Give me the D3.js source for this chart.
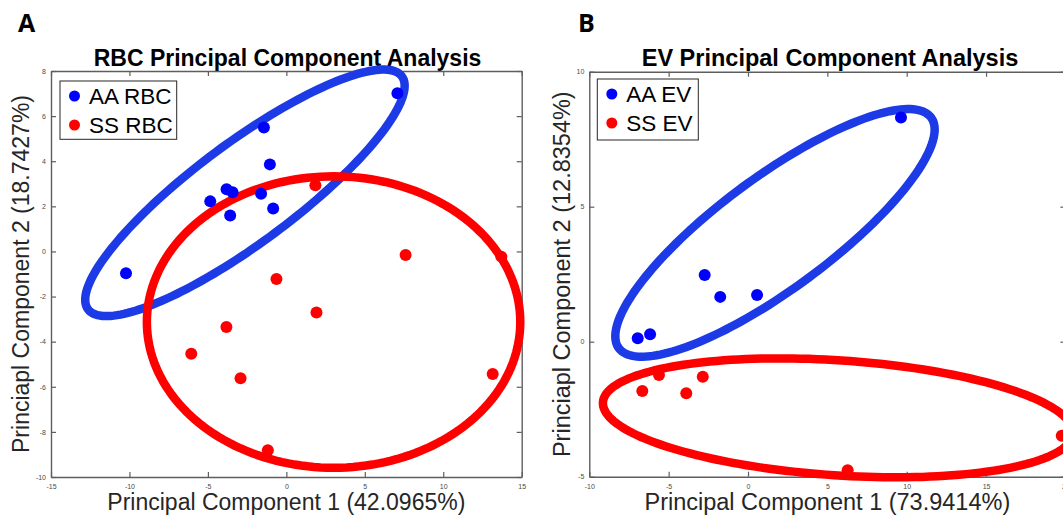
<!DOCTYPE html>
<html>
<head>
<meta charset="utf-8">
<script src="https://cdn.jsdelivr.net/npm/d3@7"></script>
<style>
  body { margin: 0; background: #fff; overflow: hidden; }
  svg { display: block; }
</style>
</head>
<body>
<svg id="fig" width="1063" height="518"></svg>
<script>
// ---- RBC principal component scores (PC1, PC2) ----
const rbcAA = [[7.08, 7.01], [-1.43, 5.49], [-1.05, 3.86], [-3.81, 2.76], [-3.43, 2.62],
               [-4.85, 2.22], [-1.61, 2.56], [-0.84, 1.90], [-3.58, 1.59], [-10.22, -0.97]];
const rbcSS = [[1.85, 2.93], [7.60, -0.16], [13.70, -0.23], [-0.63, -1.22], [1.92, -2.71],
               [-3.82, -3.35], [-6.06, -4.54], [-2.92, -5.62], [13.15, -5.43], [-1.18, -8.81]];

// ---- EV principal component scores (PC1, PC2) ----
const evAA = [[9.64, 8.30], [-2.73, 2.47], [-1.75, 1.66], [0.57, 1.73], [-6.95, 0.13], [-6.17, 0.28]];
const evSS = [[-6.66, -1.83], [-5.61, -1.23], [-3.89, -1.91], [-2.85, -1.30], [6.28, -4.76], [19.77, -3.48]];

// ---- group ellipses: centre, then two conjugate semi-diameters (data units) ----
const rbcAAEllipse = { c: [-2.64, 2.60], u: [10.00, 5.166], v: [1.902, -1.783] };
const rbcSSEllipse = { c: [3.01, -3.13], u: [11.90, 0.0], v: [0.0, 6.46] };
const evAAEllipse  = { c: [1.70, 4.03], u: [9.84, 4.27], v: [2.10, -1.671] };
const evSSEllipse  = { c: [5.67, -2.82], u: [14.81, -0.578], v: [-0.240, -2.125] };

// ---- axes ----
const rbcXDomain = [-15, 15], rbcYDomain = [-10, 8];
const evXDomain = [-10, 20],  evYDomain = [-5, 10];
const rbcXTicks = [-15, -10, -5, 0, 5, 10, 15];
const rbcYTicks = [-10, -8, -6, -4, -2, 0, 2, 4, 6, 8];
const evXTicks = [-10, -5, 0, 5, 10, 15, 20];
const evYTicks = [-5, 0, 5, 10];

// ---- text ----
const panelLetters = ["A", "B"];
const titles = ["RBC Principal Component Analysis", "EV Principal Component Analysis"];
const xLabels = ["Principal Component 1 (42.0965%)", "Principal Component 1 (73.9414%)"];
const yLabels = ["Princiapl Component 2 (18.7427%)", "Princiapl Component 2 (12.8354%)"];
const rbcLegend = ["AA RBC", "SS RBC"];
const evLegend = ["AA EV", "SS EV"];

const BLUE = "#0000ff", RED = "#ff0000", BLUE_RING = "#1c3ae6";

const svg = d3.select("#fig");
svg.append("rect").attr("width", 1063).attr("height", 518).attr("fill", "#fff");

function drawPanel(p) {
  const g = svg.append("g");
  const x = d3.scaleLinear().domain(p.xDomain).range([p.left, p.right]);
  const y = d3.scaleLinear().domain(p.yDomain).range([p.bottom, p.top]);

  // panel letter + title
  g.append("text").attr("x", p.letterX).attr("y", 32)
    .attr("font-family", "'Open Sans', sans-serif").attr("font-weight", 700)
    .attr("font-size", 25).attr("fill", "#000").text(p.letter);
  g.append("text").attr("x", p.titleX).attr("y", 65.5).attr("text-anchor", "middle")
    .attr("font-family", "'Liberation Sans', Arial, sans-serif").attr("font-weight", 700)
    .attr("font-size", p.font).attr("fill", "#000").text(p.title);

  // box axes with inward ticks
  const axStyle = sel => {
    sel.select(".domain").attr("stroke", "#5e5e5e").attr("stroke-width", 1.4);
    sel.selectAll(".tick line").attr("stroke", "#5e5e5e").attr("stroke-width", 1.2);
    sel.selectAll(".tick text").attr("fill", "#4a4a4a")
      .attr("font-family", "'Liberation Sans', Arial, sans-serif").attr("font-size", 7);
  };
  const fmt = d => String(d);
  g.append("g").attr("transform", `translate(0,${p.bottom})`)
    .call(d3.axisBottom(x).tickValues(p.xTicks).tickFormat(fmt).tickSizeInner(-5).tickSizeOuter(0).tickPadding(7))
    .call(axStyle);
  g.append("g").attr("transform", `translate(0,${p.top})`)
    .call(d3.axisTop(x).tickValues(p.xTicks).tickFormat("").tickSizeInner(-5).tickSizeOuter(0))
    .call(axStyle);
  g.append("g").attr("transform", `translate(${p.left},0)`)
    .call(d3.axisLeft(y).tickValues(p.yTicks).tickFormat(fmt).tickSizeInner(-5).tickSizeOuter(0).tickPadding(5))
    .call(axStyle);
  g.append("g").attr("transform", `translate(${p.right},0)`)
    .call(d3.axisRight(y).tickValues(p.yTicks).tickFormat("").tickSizeInner(-5).tickSizeOuter(0))
    .call(axStyle);

  // axis labels
  g.append("text").attr("x", (p.left + p.right) / 2).attr("y", 510).attr("text-anchor", "middle")
    .attr("font-family", "'Liberation Sans', Arial, sans-serif").attr("font-size", p.font)
    .attr("fill", "#262626").text(p.xLabel);
  g.append("text")
    .attr("transform", `translate(${p.yLabelX},${(p.top + p.bottom) / 2}) rotate(-90)`)
    .attr("text-anchor", "middle")
    .attr("font-family", "'Liberation Sans', Arial, sans-serif").attr("font-size", p.font)
    .attr("fill", "#262626").text(p.yLabel);

  // group ellipses
  const ts = d3.range(0, 360, 2).map(a => a * Math.PI / 180);
  const ring = d3.line().curve(d3.curveLinearClosed);
  p.ellipses.forEach(e => {
    const pts = ts.map(t => [
      x(e.c[0] + e.u[0] * Math.cos(t) + e.v[0] * Math.sin(t)),
      y(e.c[1] + e.u[1] * Math.cos(t) + e.v[1] * Math.sin(t))
    ]);
    g.append("path").attr("d", ring(pts)).attr("fill", "none")
      .attr("stroke", e.color).attr("stroke-width", 8.5);
  });

  // scores
  p.series.forEach(s => {
    g.append("g").selectAll("circle").data(s.values).join("circle")
      .attr("cx", d => x(d[0])).attr("cy", d => y(d[1])).attr("r", 6)
      .attr("fill", s.color);
  });

  // legend
  const lg = g.append("g");
  lg.append("rect").attr("x", p.legend.x).attr("y", p.legend.y)
    .attr("width", p.legend.w).attr("height", p.legend.h)
    .attr("fill", "#fff").attr("stroke", "#262626").attr("stroke-width", 1);
  p.series.forEach((s, i) => {
    const cy = p.legend.y + 15 + i * 29;
    lg.append("circle").attr("cx", p.legend.x + 14.5).attr("cy", cy).attr("r", 5.5).attr("fill", s.color);
    lg.append("text").attr("x", p.legend.x + 29).attr("y", cy + 8)
      .attr("font-family", "'Liberation Sans', Arial, sans-serif").attr("font-size", 22.5)
      .attr("fill", "#000").text(s.name);
  });
}

drawPanel({
  letter: panelLetters[0], letterX: 18, title: titles[0], titleX: 287.5, font: 23,
  xLabel: xLabels[0], yLabel: yLabels[0], yLabelX: 29,
  left: 51, right: 521.7, top: 71, bottom: 477,
  xDomain: rbcXDomain, yDomain: rbcYDomain, xTicks: rbcXTicks, yTicks: rbcYTicks,
  ellipses: [
    Object.assign({ color: BLUE_RING }, rbcAAEllipse),
    Object.assign({ color: RED }, rbcSSEllipse)
  ],
  series: [
    { name: rbcLegend[0], values: rbcAA, color: BLUE },
    { name: rbcLegend[1], values: rbcSS, color: RED }
  ],
  legend: { x: 60, y: 81, w: 116.7, h: 58.3 }
});

drawPanel({
  letter: panelLetters[1], letterX: 578, title: titles[1], titleX: 830, font: 23.5,
  xLabel: xLabels[1], yLabel: yLabels[1], yLabelX: 570,
  left: 589.3, right: 1065.4, top: 71.7, bottom: 476.7,
  xDomain: evXDomain, yDomain: evYDomain, xTicks: evXTicks, yTicks: evYTicks,
  ellipses: [
    Object.assign({ color: BLUE_RING }, evAAEllipse),
    Object.assign({ color: RED }, evSSEllipse)
  ],
  series: [
    { name: evLegend[0], values: evAA, color: BLUE },
    { name: evLegend[1], values: evSS, color: RED }
  ],
  legend: { x: 597.3, y: 79, w: 101, h: 61 }
});
</script>
</body>
</html>
